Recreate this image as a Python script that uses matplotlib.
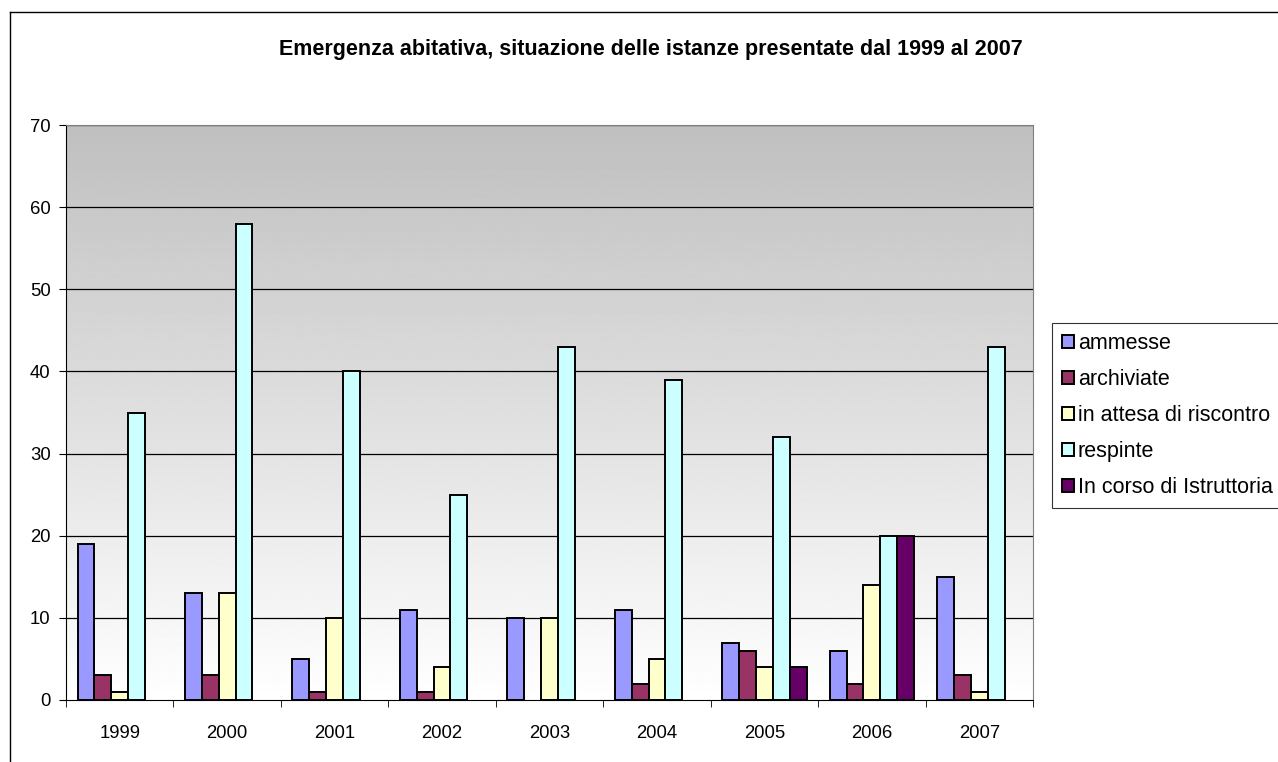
import numpy as np
import matplotlib
matplotlib.use('Agg')
import matplotlib.pyplot as plt
from matplotlib.lines import Line2D

plt.rcParams['font.family'] = ['Liberation Sans', 'DejaVu Sans']

years = ['1999', '2000', '2001', '2002', '2003', '2004', '2005', '2006', '2007']
series_names = ['ammesse', 'archiviate', 'in attesa di riscontro', 'respinte', 'In corso di Istruttoria']
ammesse = [19, 13, 5, 11, 10, 11, 7, 6, 15]
archiviate = [3, 3, 1, 1, 0, 2, 6, 2, 3]
in_attesa = [1, 13, 10, 4, 10, 5, 4, 14, 1]
respinte = [35, 58, 40, 25, 43, 39, 32, 20, 43]
in_corso = [0, 0, 0, 0, 0, 0, 4, 20, 0]
colors = ['#9999FF', '#993366', '#FFFFCC', '#CCFFFF', '#660066']

W, H = 1278, 762
fig = plt.figure(figsize=(W / 100, H / 100), dpi=100)
ax = fig.add_axes([66 / W, 1 - 700 / H, (1033 - 66) / W, (700 - 125) / H])

# gradient background, grey on top to white at the bottom
grad = np.linspace(1.0, 0.75, 256).reshape(-1, 1)
ax.imshow(grad, cmap='gray', vmin=0, vmax=1, extent=[0, 1, 0, 1],
          transform=ax.transAxes, aspect='auto', zorder=0, origin='lower')

x = np.arange(len(years))
bw = 0.157
all_series = [ammesse, archiviate, in_attesa, respinte, in_corso]
for i, (vals, c) in enumerate(zip(all_series, colors)):
    vals = np.array(vals, dtype=float)
    keep = vals > 0  # empty values are not drawn
    ax.bar(x[keep] + (i - 2) * bw, vals[keep], width=bw, color=c,
           edgecolor='black', linewidth=1.4, zorder=3)

ax.set_xlim(-0.5, len(years) - 0.5)
ax.set_ylim(0, 70)
ax.set_yticks(range(0, 71, 10))
for y in range(10, 71, 10):
    ax.axhline(y, color='black', linewidth=0.9, zorder=1)

ax.set_xticks(x)
ax.set_xticklabels(years, fontsize=13.3)
ax.set_xticks(np.arange(-0.5, len(years), 1), minor=True)
ax.tick_params(axis='x', which='major', length=0, pad=18)
ax.tick_params(axis='x', which='minor', length=5, direction='out', color='black')
ax.tick_params(axis='y', length=5, direction='out', labelsize=13.3, pad=6)

for s in ['top', 'right']:
    ax.spines[s].set_color('#808080')
ax.spines['left'].set_color('black')
ax.spines['bottom'].set_color('black')

fig.text(651 / W, 1 - 50 / H,
         'Emergenza abitativa, situazione delle istanze presentate dal 1999 al 2007',
         ha='center', va='center', fontsize=15.5, fontweight='bold')

handles = [plt.Rectangle((0, 0), 1, 1, facecolor=c, edgecolor='black', linewidth=1.4)
           for c in colors]
leg = fig.legend(handles, series_names, loc='upper left',
                 bbox_to_anchor=(1052 / W, 1 - 323 / H), fontsize=15.5,
                 frameon=True, fancybox=False, handlelength=0.55, handleheight=0.55,
                 handletextpad=0.2, labelspacing=0.7, borderpad=0.45,
                 borderaxespad=0)
leg.get_frame().set_edgecolor('black')
leg.get_frame().set_linewidth(0.8)

# outer chart border
fig.add_artist(Line2D([10 / W, 1], [1 - 12 / H, 1 - 12 / H], color='black',
                      linewidth=1, transform=fig.transFigure))
fig.add_artist(Line2D([10 / W, 10 / W], [0, 1 - 12 / H], color='black',
                      linewidth=1, transform=fig.transFigure))

fig.savefig('out.png', dpi=100)
